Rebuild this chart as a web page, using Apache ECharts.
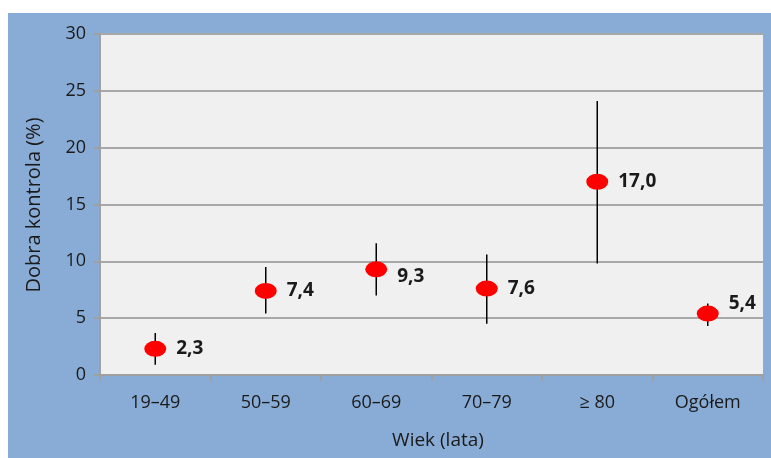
<!DOCTYPE html>
<html>
<head>
<meta charset="utf-8">
<script src="https://cdn.jsdelivr.net/npm/echarts@6/dist/echarts.min.js"></script>
<style>
  html, body { margin: 0; padding: 0; background: #ffffff; }
  #chart { width: 771px; height: 458px; }
</style>
</head>
<body>
<div id="chart"></div>
<script>
// Age groups and overall
const categories = ['19–49', '50–59', '60–69', '70–79', '≥ 80', 'Ogółem'];
// Share with good control (%)
const values = [2.3, 7.4, 9.3, 7.6, 17.0, 5.4];
// Confidence interval bounds (%)
const lowerBounds = [0.9, 5.4, 7.0, 4.5, 9.8, 4.3];
const upperBounds = [3.7, 9.5, 11.6, 10.6, 24.1, 6.3];
const yTicks = [0, 5, 10, 15, 20, 25, 30];

const fontFamily = '"Open Sans", "Noto Sans", sans-serif';
const textColor = '#1a1a1a';

// Vertical nudges for value labels that would otherwise touch gridlines
const labelNudge = { 2: 7, 5: -10 };

const chart = echarts.init(document.getElementById('chart'), null, { renderer: 'canvas' });

const intervalData = categories.map((c, i) => [i, lowerBounds[i], upperBounds[i]]);
const pointData = values.map((v, i) => ({
  value: v,
  label: { offset: [0, labelNudge[i] || 0] }
}));

chart.setOption({
  backgroundColor: '#ffffff',
  animation: false,
  graphic: [
    {
      type: 'rect',
      z: -10,
      shape: { x: 8, y: 13, width: 763, height: 445 },
      style: { fill: '#89acd6' }
    },
    {
      type: 'text',
      x: 34, y: 205,
      rotation: Math.PI / 2,
      style: {
        text: 'Dobra kontrola (%)',
        fill: textColor,
        font: '20px ' + fontFamily,
        align: 'center',
        verticalAlign: 'middle'
      }
    },
    {
      type: 'text',
      x: 438, y: 441,
      style: {
        text: 'Wiek (lata)',
        fill: textColor,
        font: '19px ' + fontFamily,
        align: 'center',
        verticalAlign: 'middle'
      }
    }
  ],
  grid: {
    left: 100, right: 8, top: 34, bottom: 83,
    show: true,
    backgroundColor: '#f0f0f0',
    borderWidth: 0
  },
  xAxis: {
    type: 'category',
    data: categories,
    boundaryGap: true,
    axisLine: { show: true, lineStyle: { color: '#a0a0a0', width: 2 } },
    axisTick: { show: true, alignWithLabel: false, length: 6, lineStyle: { color: '#a0a0a0', width: 2 } },
    axisLabel: { margin: 19, fontSize: 18, color: textColor, fontFamily: fontFamily },
    splitLine: { show: false }
  },
  yAxis: {
    type: 'value',
    min: yTicks[0],
    max: yTicks[yTicks.length - 1],
    interval: 5,
    axisLine: { show: true, lineStyle: { color: '#a0a0a0', width: 2 } },
    axisTick: { show: true, length: 6, lineStyle: { color: '#a0a0a0', width: 2 } },
    axisLabel: { margin: 14, fontSize: 18, color: textColor, fontFamily: fontFamily },
    splitLine: { show: true, lineStyle: { color: '#a8a8a8', width: 2 } }
  },
  series: [
    {
      type: 'custom',
      name: 'ci',
      z: 2,
      data: intervalData,
      renderItem: function (params, api) {
        const x = api.value(0);
        const lo = api.coord([x, api.value(1)]);
        const hi = api.coord([x, api.value(2)]);
        return {
          type: 'line',
          shape: { x1: lo[0], y1: lo[1], x2: hi[0], y2: hi[1] },
          style: { stroke: '#000000', lineWidth: 1.5 }
        };
      }
    },
    {
      type: 'scatter',
      z: 3,
      data: pointData,
      symbol: 'circle',
      symbolSize: [22, 16],
      itemStyle: { color: '#ff0000', opacity: 1 },
      label: {
        show: true,
        position: 'right',
        distance: 10,
        fontSize: 19,
        fontWeight: 'bold',
        color: textColor,
        fontFamily: fontFamily,
        formatter: function (p) { return p.value.toFixed(1).replace('.', ','); }
      }
    }
  ]
});
</script>
</body>
</html>
